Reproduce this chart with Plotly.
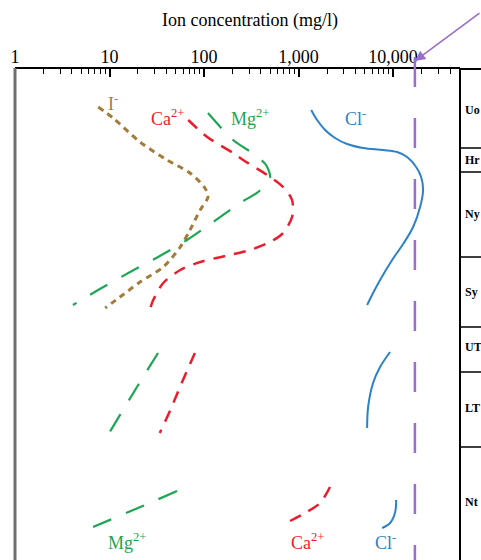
import math
import plotly.graph_objects as go

# ---------------- data (concentration mg/l vs depth units) ----------------
cl_conc = [1360, 1570, 1910, 2430, 3260, 4820, 7840, 11020, 14070, 17520, 19780, 20760,
           19300, 16280, 12760, 9760, 7280, 6140, 5310, None,
           9290, 7280, 6140, 5440, 5310, None,
           10760, 10520, 9290, 7650]
cl_depth = [82, 102, 122, 138, 150, 158, 162, 166, 176, 196, 216, 242,
            276, 316, 350, 382, 422, 448, 472, None,
            566, 596, 628, 676, 718, None,
            862, 886, 908, 918]

ca_conc = [68, 108, 203, 259, 464, 685, 853, 853, 685, 499, 307, 167, 91, 56, 37, 29, 27,
           None, 80, 58, 44, 34, None, 2150, 1690, 1170, 670]
ca_depth = [102, 136, 168, 182, 212, 236, 262, 296, 328, 346, 362, 374, 386, 402, 428, 462,
            478, None, 568, 628, 682, 728, None, 836, 868, 888, 912]

mg_conc = [110, 203, 347, 453, 499, 373, 240, 125, 66, 34, 16.5, 7.9, 4.1, None,
           32.6, 19.5, 9.9, None, 51.8, 20, 6.7]
mg_depth = [88, 142, 172, 192, 218, 246, 268, 306, 342, 374, 406, 440, 472, None,
            568, 636, 728, None, 844, 878, 916]

i_conc = [7.6, 10.9, 21, 40.6, 71, 102, 110, 91, 71, 56, 37, 21, 12.9, 9.0]
i_depth = [76, 98, 146, 182, 208, 238, 256, 282, 322, 356, 396, 426, 456, 478]

seawater_cl = 17000

tick_vals = [1, 10, 100, 1000, 10000]
tick_text = ["1", "10", "100", "1,000", "10,000"]

unit_names = ["Uo", "Hr", "Ny", "Sy", "UT", "LT", "Nt"]
unit_label_depth = [82, 182, 290, 446, 556, 678, 866]
unit_boundaries = [158, 206, 376, 516, 606, 756]

depth_range = [982, 0]
x_max = 51000

# ---------------- styling ----------------
RED = "#ec1c2e"
GREEN = "#1ea556"
BLUE = "#2c82c9"
BROWN = "#a47c3a"
PURPLE = "#9b6dcc"
SERIF = "Liberation Serif, Times New Roman, serif"

fig = go.Figure()

fig.add_trace(go.Scatter(x=i_conc, y=i_depth, mode="lines",
                         line=dict(color=BROWN, width=3, dash="6px,5px", shape="spline", smoothing=0.8),
                         connectgaps=False, hoverinfo="skip"))
fig.add_trace(go.Scatter(x=mg_conc, y=mg_depth, mode="lines",
                         line=dict(color=GREEN, width=2.2, dash="20px,16px", shape="spline", smoothing=0.8),
                         connectgaps=False, hoverinfo="skip"))
fig.add_trace(go.Scatter(x=ca_conc, y=ca_depth, mode="lines",
                         line=dict(color=RED, width=2.5, dash="12px,9px", shape="spline", smoothing=0.8),
                         connectgaps=False, hoverinfo="skip"))
fig.add_trace(go.Scatter(x=cl_conc, y=cl_depth, mode="lines",
                         line=dict(color=BLUE, width=2, shape="spline", smoothing=1.0),
                         connectgaps=False, hoverinfo="skip"))

shapes = []
# seawater reference line
shapes.append(dict(type="line", xref="x", yref="paper", x0=seawater_cl, x1=seawater_cl,
                   y0=1.0244, y1=0, line=dict(color=PURPLE, width=2.5, dash="30px,31px")))
# frame
shapes.append(dict(type="line", xref="paper", yref="paper", x0=0, x1=0, y0=0, y1=1.002,
                   line=dict(color="#707070", width=3)))
shapes.append(dict(type="line", xref="paper", yref="paper", x0=1, x1=1, y0=0, y1=1,
                   line=dict(color="black", width=2)))
shapes.append(dict(type="line", xref="paper", yref="paper", x0=1, x1=1.06, y0=1, y1=1,
                   line=dict(color="black", width=2)))
for b in unit_boundaries:
    shapes.append(dict(type="line", xref="paper", yref="y", x0=1, x1=1.06, y0=b, y1=b,
                       line=dict(color="black", width=1.5)))

annotations = []
for name, d in zip(unit_names, unit_label_depth):
    annotations.append(dict(x=1.006, xref="paper", y=d, yref="y", text=f"<b>{name}</b>",
                            showarrow=False, xanchor="left", yanchor="middle",
                            font=dict(family=SERIF, size=12, color="black")))

ion_labels = [
    ("I<sup>-</sup>", 10.9, 66, BROWN),
    ("Ca<sup>2+</sup>", 40.6, 96, RED),
    ("Mg<sup>2+</sup>", 307, 96, GREEN),
    ("Cl<sup>-</sup>", 3960, 96, BLUE),
    ("Mg<sup>2+</sup>", 15.3, 944, GREEN),
    ("Ca<sup>2+</sup>", 1230, 944, RED),
    ("Cl<sup>-</sup>", 8230, 944, BLUE),
]
for txt, xv, d, col in ion_labels:
    annotations.append(dict(x=math.log10(xv), xref="x", y=d, yref="y", text=txt,
                            showarrow=False, xanchor="center", yanchor="middle",
                            font=dict(family=SERIF, size=18, color=col)))

annotations.append(dict(x=0.528, xref="paper", y=1.0978, yref="paper",
                        text="Ion concentration (mg/l)", showarrow=False,
                        xanchor="center", yanchor="middle",
                        font=dict(family=SERIF, size=18, color="black")))
# arrow pointing to seawater line
annotations.append(dict(x=math.log10(seawater_cl), xref="x", y=1.0163, yref="paper",
                        ax=90, ay=-49, axref="pixel", ayref="pixel", text="",
                        showarrow=True, arrowhead=2, arrowsize=1.3, arrowwidth=1.6,
                        arrowcolor=PURPLE))

minor_vals = [m * 10 ** d for d in range(5) for m in range(2, 10)]

fig.update_layout(
    width=481, height=560,
    margin=dict(l=15, r=21, t=69, b=0),
    paper_bgcolor="white", plot_bgcolor="white",
    showlegend=False,
    shapes=shapes, annotations=annotations,
    xaxis=dict(type="log", range=[0, math.log10(x_max)], side="top",
               showline=True, linecolor="black", linewidth=2, mirror=False,
               showgrid=False, zeroline=False,
               ticks="inside", ticklen=8, tickwidth=1.5, tickcolor="black",
               tickmode="array", tickvals=tick_vals, ticktext=tick_text,
               ticklabelstandoff=-3,
               tickfont=dict(family=SERIF, size=18, color="black"),
               minor=dict(ticks="inside", ticklen=5, tickwidth=1.2, tickcolor="black",
                          tickmode="array", tickvals=minor_vals, showgrid=False)),
    yaxis=dict(range=depth_range, visible=False, showgrid=False, zeroline=False),
)

fig.write_html("out.html")
